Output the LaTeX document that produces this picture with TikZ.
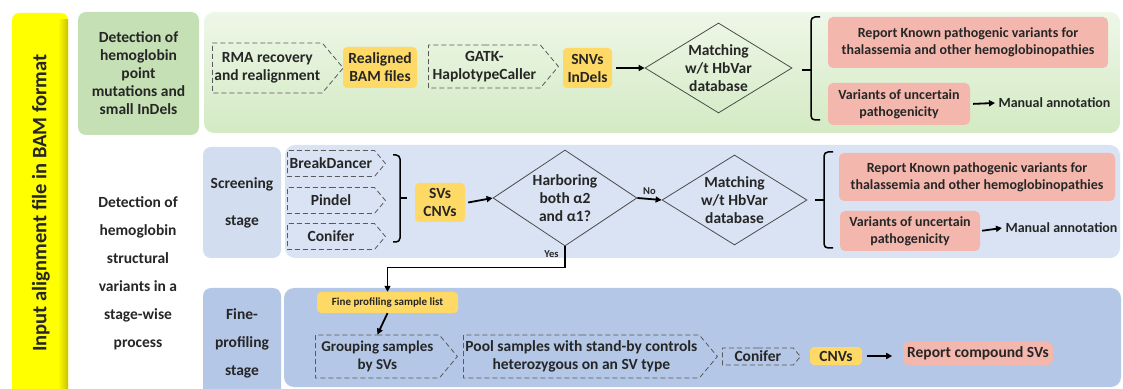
\documentclass[tikz,border=0pt]{standalone}
\usepackage{fontspec}
\setmainfont{Carlito}
\usepackage{tikz}
\usetikzlibrary{positioning,shapes.geometric,shapes.symbols,arrows.meta}
\definecolor{barYellow}{HTML}{FFFF00}
\definecolor{barOlive}{HTML}{C9C200}
\definecolor{labGreen}{HTML}{C5E0B4}
\definecolor{panGreenTop}{HTML}{EEF7E8}
\definecolor{panGreenBot}{HTML}{D3EAC3}
\definecolor{labBlue}{HTML}{D2DDF0}
\definecolor{panBlue}{HTML}{DAE3F3}
\definecolor{fineBlue}{HTML}{B4C7E7}
\definecolor{resYellow}{HTML}{FFD966}
\definecolor{repPink}{HTML}{F4B7AD}
\definecolor{txt}{HTML}{262626}

\tikzset{
  every node/.style={font=\fontsize{15.5}{18}\selectfont\bfseries, text=txt},
  tool/.style={shape=signal, signal to=east, signal pointer angle=100, draw=gray!70!black,
    dash pattern=on 5pt off 3pt, line width=0.8pt, align=center, inner xsep=2pt, inner ysep=0pt, anchor=west},
  result/.style={fill=resYellow, rounded corners=4pt, align=center, inner sep=1pt},
  report/.style={fill=repPink, rounded corners=5pt, align=center, inner sep=2pt,
    font=\fontsize{14}{17}\selectfont\bfseries},
  check/.style={diamond, draw=gray!60!black, line width=0.8pt, aspect=1.6, inner sep=0pt, align=center},
  stagebox/.style={rounded corners=8pt, align=center, inner sep=0pt},
  flow/.style={-{Triangle[length=6pt,width=6pt]}, line width=1.8pt, draw=black},
  brace/.style={line width=1.5pt, rounded corners=4pt},
  smalltxt/.style={font=\fontsize{10.5}{12}\selectfont\bfseries}
}

\begin{document}
\begin{tikzpicture}[x=1pt,y=1pt]
\useasboundingbox (0,0) rectangle (1123,388);

% side bar
\fill[barYellow, rounded corners=7pt] (12,-10) rectangle (68,375);
\shade[left color=barYellow, right color=barOlive] (58,0) rectangle (68,368);
\node[rotate=90, font=\fontsize{20.5}{24}\selectfont\bfseries] (inputlab) at (41,185) {Input alignment file in BAM format};

% panels
\shade[top color=panGreenTop, bottom color=panGreenBot, rounded corners=10pt] (204,255) rectangle (1120,376);
\fill[panBlue, rounded corners=10pt] (285,130) rectangle (1120,243);
\fill[fineBlue, rounded corners=10pt] (284,1) rectangle (1121,100);

% stage labels
\node[stagebox, fill=labGreen, minimum width=121pt, minimum height=123pt] (pointlab) at (138.5,314.5)
  {Detection of\\hemoglobin\\point\\mutations and\\small InDels};
\node[align=center, font=\fontsize{15.5}{28}\selectfont\bfseries] (svlab) at (138,114.5)
  {Detection of\\hemoglobin\\structural\\variants in a\\stage-wise\\process};
\node[stagebox, fill=labBlue, minimum width=78pt, minimum height=111pt,
  font=\fontsize{15.5}{37}\selectfont\bfseries] (screenlab) at (242,185.5) {Screening\\stage};
\node[stagebox, fill=fineBlue, minimum width=78pt, minimum height=110pt,
  font=\fontsize{15.5}{28}\selectfont\bfseries] (finelab) at (242,45) {Fine-\\profiling\\stage};

% point mutations
\node[tool, minimum width=125pt, minimum height=50pt] (rma) at (212,320) {RMA recovery\\and realignment};
\node[result, minimum width=74pt, minimum height=41pt] (bam) at (380,320.5) {Realigned\\BAM files};
\node[tool, minimum width=130pt, minimum height=43pt] (gatk) at (428,321.5) {GATK-\\HaplotypeCaller};
\node[result, minimum width=49pt, minimum height=40pt] (snv) at (587.5,320) {SNVs\\InDels};
\node[check, minimum width=147pt, minimum height=90pt] (match1) at (718.5,320) {Matching\\w/t HbVar\\database};
\node[report, minimum width=280pt, minimum height=51pt] (known1) at (968,345.5)
  {Report Known pathogenic variants for\\thalassemia and other hemoglobinopathies};
\node[report, minimum width=142pt, minimum height=42pt] (unc1) at (899,284) {Variants of uncertain\\pathogenicity};
\node[anchor=west, font=\fontsize{14}{17}\selectfont\bfseries] (manual1) at (995,285) {Manual annotation};
\draw[flow] (snv.east) ++(4,0) -- (match1.west);
\draw[flow, shorten <=3pt] (unc1.east) -- (manual1.west);
\draw[brace] (820,371) -- (811,371) -- (811,268) -- (820,268);
\draw[brace] (811,318) -- (802,318);

% screening stage
\node[tool, minimum width=98pt, minimum height=26pt] (bd) at (287,224.5) {BreakDancer};
\node[tool, minimum width=98pt, minimum height=26pt] (pindel) at (287,187.5) {Pindel};
\node[tool, minimum width=98pt, minimum height=26pt] (conifer1) at (287,151.5) {Conifer};
\node[result, minimum width=50pt, minimum height=39pt] (sv) at (440,185.5) {SVs\\CNVs};
\node[check, minimum width=144pt, minimum height=96pt] (harbor) at (565,190) {Harboring\\both α2\\and α1?};
\node[check, minimum width=145pt, minimum height=90pt] (match2) at (734.5,188) {Matching\\w/t HbVar\\database};
\node[report, minimum width=276pt, minimum height=48pt] (known2) at (977,211)
  {Report Known pathogenic variants for\\thalassemia and other hemoglobinopathies};
\node[report, minimum width=140pt, minimum height=40pt] (unc2) at (910,157) {Variants of uncertain\\pathogenicity};
\node[anchor=west, font=\fontsize{14}{17}\selectfont\bfseries] (manual2) at (1002,160) {Manual annotation};
\draw[brace] (393,233) -- (400,233) -- (400,146) -- (393,146);
\draw[brace] (400,190) -- (407,190);
\draw[flow] (sv.east) ++(3,0) -- (harbor.west);
\draw[flow] (harbor.east) -- node[above, smalltxt] (no) {No} (match2.west);
\draw[flow, shorten <=2pt] (unc2.east) -- (manual2.west);
\draw[brace] (833,236) -- (824,236) -- (824,140) -- (833,140);
\draw[brace] (824,188) -- (815,188);

% fine profiling stage
\node[result, minimum width=141pt, minimum height=21pt, font=\fontsize{11}{13}\selectfont\bfseries] (list) at (387.5,85.5) {Fine profiling sample list};
\node[tool, minimum width=142pt, minimum height=43pt, font=\fontsize{15}{18}\selectfont\bfseries] (group) at (315,31.5) {Grouping samples\\by SVs};
\node[tool, minimum width=254pt, minimum height=43pt] (pool) at (463,31.5) {Pool samples with stand-by controls\\heterozygous on an SV type};
\node[tool, minimum width=78pt, minimum height=17pt] (conifer2) at (722,31.5) {Conifer};
\node[result, minimum width=52pt, minimum height=18pt, inner sep=0pt] (cnv) at (836,32) {CNVs};
\node[report, minimum width=150pt, minimum height=23pt, inner sep=0pt, font=\fontsize{15.5}{18}\selectfont\bfseries] (compound) at (978,34.5) {Report compound SVs};
\draw[line width=1.5pt, -{Triangle[length=6pt,width=6pt]}] (harbor.south) -- ++(0,-21) -| (list.north);
\node[smalltxt, below left=1pt and 3pt of harbor.south] (yes) {Yes};
\draw[flow] (list.south) -- (group.north);
\draw[flow] (cnv.east) ++(5,0) -- ++(25,0);
\end{tikzpicture}
\end{document}
